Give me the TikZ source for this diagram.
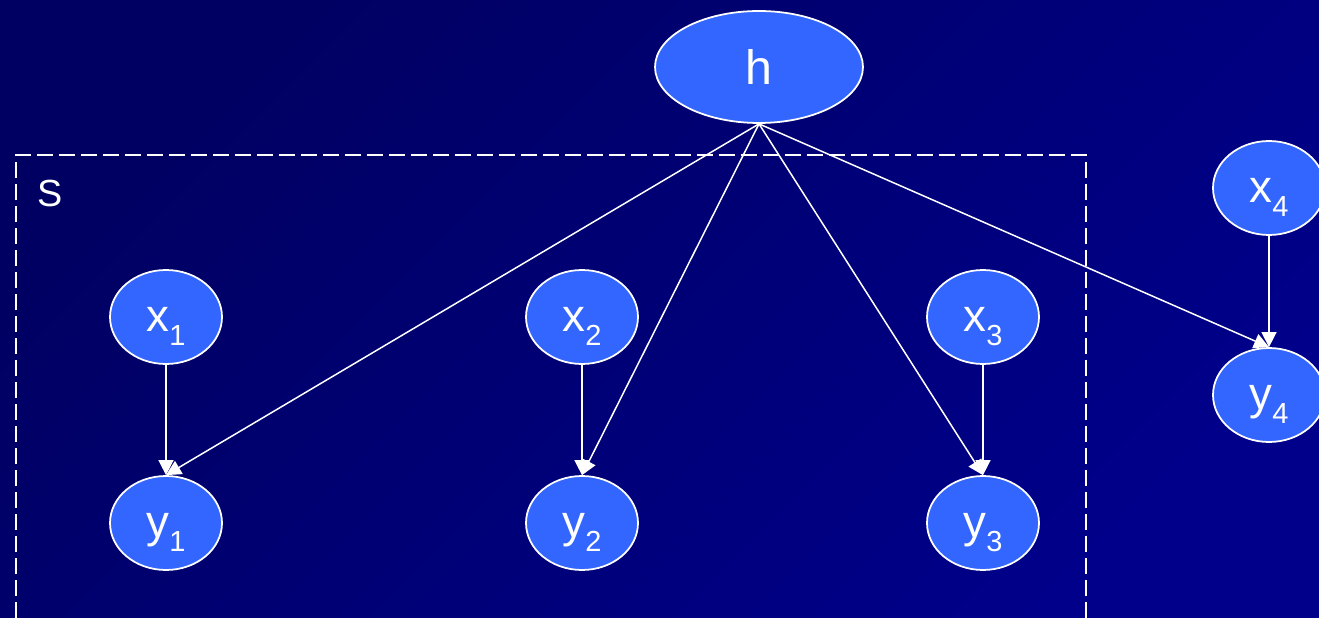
\documentclass[tikz,border=0pt]{standalone}
\usepackage{fontspec}
\setmainfont{Liberation Sans}
\usepackage{tikz}
\usetikzlibrary{positioning,arrows.meta,shapes.geometric}
\definecolor{bgdark}{HTML}{000062}
\definecolor{bglight}{HTML}{00008A}
\definecolor{nodefill}{HTML}{3366FF}
\newcommand{\lowidx}[1]{\raisebox{-7.5pt}{\fontsize{16.5}{17}\selectfont #1}}

\begin{document}
\begin{tikzpicture}[
  x=0.02cm, y=-0.02cm,
  var/.style={ellipse, draw=white, line width=1pt, fill=nodefill, text=white, inner sep=0pt,
    minimum width=2.24cm, minimum height=1.88cm, text height=17pt, text depth=0pt,
    font=\fontsize{26}{27}\selectfont},
  hid/.style={var, minimum width=4.16cm, minimum height=2.24cm, text height=20pt,
    font=\fontsize{27.5}{28}\selectfont},
  arr/.style={-{Triangle[length=3mm, width=3mm]}, line width=0.85pt, color=white},
  plate/.style={draw=white, line width=1.1pt, dash pattern=on 0.32cm off 0.12cm},
  lbl/.style={text=white, font=\fontsize{21.5}{22}\selectfont}
]
\useasboundingbox (0,0) rectangle (1319,618);
\clip (0,0) rectangle (1319,618);
\shade[top color=bgdark, bottom color=bglight, shading angle=45] (0,0) rectangle (1319,618);

% plate
\draw[plate] (16,640) -- (16,155) -- (1086,155) -- (1086,640);
\node[lbl] (S) at (50,193) {S};

% variables
\node[hid] (h) at (759,67) {h};
\node[var] (x1) at (166,317) {x\lowidx{1}};
\node[var] (y1) at (166,523) {y\lowidx{1}};
\node[var] (x2) at (582,317) {x\lowidx{2}};
\node[var] (y2) at (582,523) {y\lowidx{2}};
\node[var] (x3) at (983,317) {x\lowidx{3}};
\node[var] (y3) at (983,523) {y\lowidx{3}};
\node[var] (x4) at (1269,188) {x\lowidx{4}};
\node[var] (y4) at (1269,395) {y\lowidx{4}};

\draw[arr] (x1) -- (y1);
\draw[arr] (x2) -- (y2);
\draw[arr] (x3) -- (y3);
\draw[arr] (x4) -- (y4);
\draw[arr] (h.south) -- (y1.north);
\draw[arr] (h.south) -- (y2.north);
\draw[arr] (h.south) -- (y3.north);
\draw[arr] (h.south) -- (y4.north);
\end{tikzpicture}
\end{document}
